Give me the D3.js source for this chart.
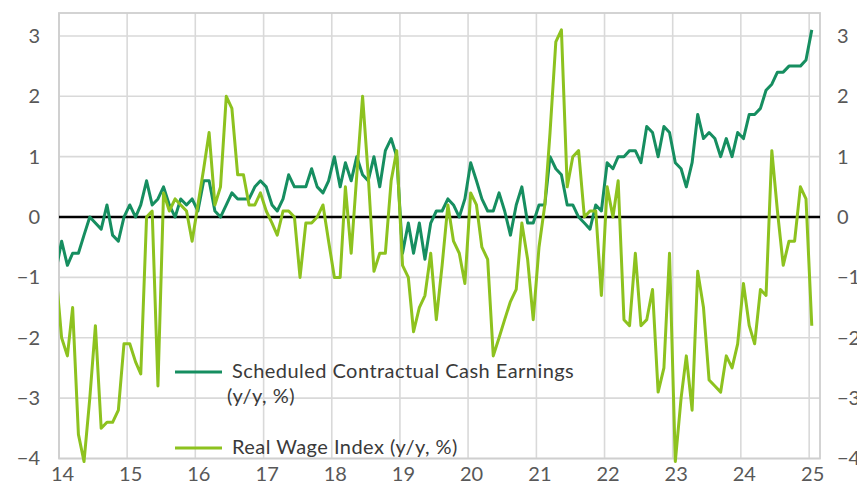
<!DOCTYPE html>
<html>
<head>
<meta charset="utf-8">
<script src="https://cdn.jsdelivr.net/npm/d3@7"></script>
<style>
  html, body { margin: 0; padding: 0; background: #fff; }
  svg { display: block; }
  text { font-family: Lato, "Open Sans", sans-serif; }
</style>
</head>
<body>
<svg id="chart" width="857" height="491"></svg>
<script>
// ---- Data (monthly, Dec 2013 .. Jan 2025; first point is clipped by the axis) ----
const startMonth = new Date(2013, 11, 1);
const endMonth = new Date(2025, 1, 1);

const seriesNames = ["Scheduled Contractual Cash Earnings", "Real Wage Index (y/y, %)"];

const scheduledEarnings = [
  -0.9,
  -0.4, -0.8, -0.6, -0.6, -0.3, 0.0, -0.1, -0.2, 0.2, -0.3, -0.4, 0.0,
  0.2, 0.0, 0.2, 0.6, 0.2, 0.3, 0.5, 0.2, 0.0, 0.3, 0.2, 0.3,
  0.1, 0.6, 0.6, 0.1, 0.0, 0.2, 0.4, 0.3, 0.3, 0.3, 0.5, 0.6,
  0.5, 0.2, 0.1, 0.3, 0.7, 0.5, 0.5, 0.5, 0.8, 0.5, 0.4, 0.6,
  1.0, 0.5, 0.9, 0.6, 1.0, 0.7, 0.6, 1.0, 0.5, 1.1, 1.3, 1.0,
  -0.6, -0.1, -0.6, -0.1, -0.7, -0.1, 0.1, 0.1, 0.3, 0.2, 0.0, 0.3,
  0.9, 0.6, 0.3, 0.1, 0.1, 0.4, 0.1, -0.3, 0.2, 0.5, -0.1, -0.1,
  0.2, 0.2, 1.0, 0.8, 0.7, 0.2, 0.2, 0.0, -0.1, -0.2, 0.2, 0.1,
  0.9, 0.8, 1.0, 1.0, 1.1, 1.1, 0.9, 1.5, 1.4, 1.0, 1.5, 1.4,
  0.9, 0.8, 0.5, 0.9, 1.7, 1.3, 1.4, 1.3, 1.0, 1.3, 1.0, 1.4,
  1.3, 1.7, 1.7, 1.8, 2.1, 2.2, 2.4, 2.4, 2.5, 2.5, 2.5, 2.6,
  3.1
];

const realWageIndex = [
  -0.9,
  -2.0, -2.3, -1.5, -3.6, -4.05, -3.0, -1.8, -3.5, -3.4, -3.4, -3.2, -2.1,
  -2.1, -2.4, -2.6, 0.0, 0.1, -2.8, 0.4, 0.1, 0.3, 0.2, 0.1, -0.4,
  0.2, 0.8, 1.4, 0.2, 0.5, 2.0, 1.8, 0.7, 0.7, 0.2, 0.2, 0.4,
  0.1, -0.1, -0.3, 0.1, 0.1, 0.0, -1.0, -0.1, -0.1, 0.0, 0.2, -0.4,
  -1.0, -1.0, 0.5, -0.6, 0.7, 2.0, 0.7, -0.9, -0.6, -0.6, 0.6, 1.1,
  -0.8, -1.0, -1.9, -1.5, -1.3, -0.6, -1.7, -0.8, 0.2, -0.4, -0.6, -1.1,
  0.4, 0.2, -0.5, -0.7, -2.3, -2.0, -1.7, -1.4, -1.2, -0.1, -0.7, -1.7,
  -0.5, 0.2, 1.4, 2.9, 3.1, 0.5, 1.0, 1.1, 0.0, 0.1, 0.1, -1.3,
  0.5, 0.0, 0.6, -1.7, -1.8, -0.6, -1.8, -1.7, -1.2, -2.9, -2.5, -0.6,
  -4.05, -3.0, -2.3, -3.2, -0.9, -1.5, -2.7, -2.8, -2.9, -2.3, -2.5, -2.1,
  -1.1, -1.8, -2.1, -1.2, -1.3, 1.1, 0.1, -0.8, -0.4, -0.4, 0.5, 0.3,
  -1.8
];

const yTicks = [-4, -3, -2, -1, 0, 1, 2, 3];
const xTickYears = [2014, 2015, 2016, 2017, 2018, 2019, 2020, 2021, 2022, 2023, 2024, 2025];
const xTickLabels = ["14", "15", "16", "17", "18", "19", "20", "21", "22", "23", "24", "25"];

// ---- Layout ----
const svg = d3.select("#chart");
const plot = { left: 59, right: 820, top: 13, bottom: 458.5 };
const darkGreen = "#168e60";
const lightGreen = "#8dc21f";

const months = d3.timeMonth.range(startMonth, endMonth);
// plot each month at mid-month
const midMonth = months.map(d => new Date(d.getFullYear(), d.getMonth(), 15));

const x = d3.scaleTime()
  .domain([new Date(2014, 0, 1), new Date(2025, 1, 28)])
  .range([plot.left, plot.right]);
const y = d3.scaleLinear().domain([-4, 3.38]).range([plot.bottom, plot.top]);

// grid
const grid = svg.append("g");
grid.selectAll("line.h").data(yTicks).enter().append("line")
  .attr("x1", plot.left).attr("x2", plot.right)
  .attr("y1", d => y(d)).attr("y2", d => y(d))
  .attr("stroke", "#d9d9d9").attr("stroke-width", 1.6);
grid.selectAll("line.v").data(xTickYears).enter().append("line")
  .attr("x1", d => x(new Date(d, 0, 1))).attr("x2", d => x(new Date(d, 0, 1)))
  .attr("y1", plot.top).attr("y2", plot.bottom)
  .attr("stroke", "#d9d9d9").attr("stroke-width", 1.6);

// frame
svg.append("rect")
  .attr("x", plot.left).attr("y", plot.top)
  .attr("width", plot.right - plot.left).attr("height", plot.bottom - plot.top)
  .attr("fill", "none").attr("stroke", "#cfcfcf").attr("stroke-width", 1.8);

// zero line
svg.append("line")
  .attr("x1", plot.left).attr("x2", plot.right)
  .attr("y1", y(0)).attr("y2", y(0))
  .attr("stroke", "#000").attr("stroke-width", 2.6);

// axes
const axisFont = 20;
const leftAxis = d3.axisLeft(y).tickValues(yTicks).tickSize(0).tickPadding(19).tickFormat(d3.format("d"));
const rightAxis = d3.axisRight(y).tickValues(yTicks).tickSize(0).tickPadding(17).tickFormat(d3.format("d"));
const bottomAxis = d3.axisBottom(x)
  .tickValues(xTickYears.map(yr => new Date(yr, 0, 1)))
  .tickSize(0).tickPadding(8)
  .tickFormat((d, i) => xTickLabels[i]);

function styleAxis(g) {
  g.select(".domain").remove();
  g.selectAll("text").attr("font-size", axisFont).attr("fill", "#585858")
    .style("font-family", "Lato, 'Open Sans', sans-serif");
}
svg.append("g").attr("transform", `translate(${plot.left},0)`).call(leftAxis).call(styleAxis);
svg.append("g").attr("transform", `translate(${plot.right},0)`).call(rightAxis).call(styleAxis);
svg.append("g").attr("transform", `translate(3,${plot.bottom})`).call(bottomAxis).call(styleAxis);

// series
svg.append("defs").append("clipPath").attr("id", "clip")
  .append("rect").attr("x", plot.left).attr("y", 0)
  .attr("width", plot.right - plot.left).attr("height", 491);

const line = d3.line().x((d, i) => x(midMonth[i])).y(d => y(d));

const seriesG = svg.append("g").attr("clip-path", "url(#clip)");
seriesG.append("path").datum(scheduledEarnings)
  .attr("d", line).attr("fill", "none").attr("stroke", darkGreen)
  .attr("stroke-width", 3).attr("stroke-linejoin", "round");
seriesG.append("path").datum(realWageIndex)
  .attr("d", line).attr("fill", "none").attr("stroke", lightGreen)
  .attr("stroke-width", 3).attr("stroke-linejoin", "round");

// legend
const legend = svg.append("g");
const legendFont = 20;
legend.append("line").attr("x1", 175).attr("x2", 222).attr("y1", 372).attr("y2", 372)
  .attr("stroke", darkGreen).attr("stroke-width", 3);
legend.append("text").attr("x", 232).attr("y", 377.5)
  .attr("font-size", legendFont).attr("fill", "#3a3a3a").attr("letter-spacing", 0.45)
  .text(seriesNames[0]);
legend.append("text").attr("x", 227).attr("y", 402.5)
  .attr("font-size", legendFont).attr("fill", "#3a3a3a").attr("letter-spacing", 0.45)
  .text("(y/y, %)");
legend.append("line").attr("x1", 175).attr("x2", 222).attr("y1", 448).attr("y2", 448)
  .attr("stroke", lightGreen).attr("stroke-width", 3);
legend.append("text").attr("x", 232).attr("y", 453.5)
  .attr("font-size", legendFont).attr("fill", "#3a3a3a").attr("letter-spacing", 0.45)
  .text(seriesNames[1]);
</script>
</body>
</html>
